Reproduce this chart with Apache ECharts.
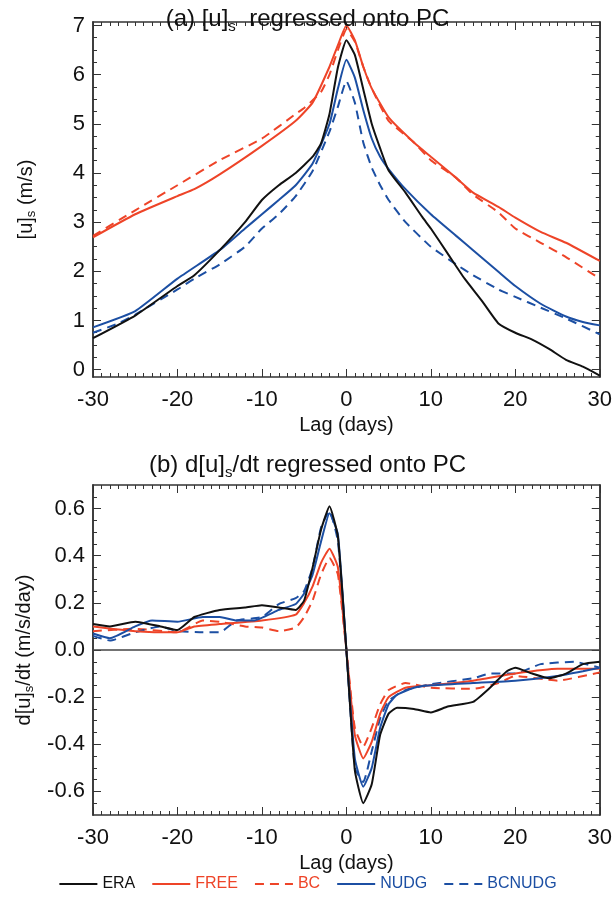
<!DOCTYPE html>
<html><head><meta charset="utf-8">
<script src="https://cdn.jsdelivr.net/npm/echarts@6/dist/echarts.min.js"></script>
<style>html,body{margin:0;padding:0;background:#fff}#main{width:615px;height:899px}</style>
</head><body><div id="main"></div>
<script>
// panel (a): [u]s, [lag, value]
var eraU=[[-30,0.64],[-25,1.1],[-20,1.7],[-18,1.92],[-15,2.43],[-12,3.0],[-10,3.45],[-8,3.75],[-6,4.0],[-4,4.33],[-3,4.6],[-2,5.2],[-1,6.15],[0,6.7],[1,6.4],[2,5.7],[3,5.0],[4,4.5],[5,4.05],[7,3.6],[9,3.1],[10,2.87],[12,2.36],[14,1.85],[16,1.41],[18,0.94],[20,0.75],[22,0.61],[24,0.42],[26,0.2],[28,0.06],[30,-0.12]];
var freeU=[[-30,2.69],[-25,3.16],[-20,3.53],[-18,3.67],[-15,3.97],[-10,4.55],[-6,5.06],[-4,5.43],[-2,6.16],[-1,6.6],[0,7.0],[1,6.7],[2,6.16],[3,5.72],[5,5.13],[8,4.62],[10,4.33],[13,3.9],[15,3.6],[18,3.31],[20,3.09],[23,2.8],[26,2.58],[30,2.21]];
var bcU=[[-30,2.72],[-25,3.24],[-20,3.75],[-15,4.26],[-10,4.7],[-6,5.2],[-5,5.32],[-3,5.65],[-2,6.0],[-1,6.5],[0,6.92],[1,6.67],[2,6.16],[3,5.72],[5,5.06],[8,4.62],[10,4.26],[13,3.9],[15,3.56],[18,3.2],[20,2.87],[23,2.58],[26,2.29],[30,1.85]];
var nudgU=[[-30,0.86],[-25,1.19],[-20,1.85],[-15,2.43],[-12,2.87],[-10,3.16],[-8,3.45],[-6,3.75],[-4,4.19],[-2,5.0],[-1,5.72],[0,6.3],[1,5.94],[2,5.28],[3,4.7],[4,4.33],[5,4.08],[7,3.67],[10,3.16],[13,2.72],[15,2.43],[18,1.99],[20,1.7],[23,1.34],[26,1.08],[28,0.97],[30,0.9]];
var bcnudgU=[[-30,0.75],[-27,0.94],[-25,1.12],[-20,1.63],[-18,1.85],[-15,2.14],[-12,2.5],[-10,2.87],[-8,3.16],[-6,3.53],[-4,4.04],[-2,4.84],[-1,5.35],[0,5.87],[1,5.43],[2,4.62],[3,4.11],[4,3.75],[5,3.45],[7,3.0],[10,2.5],[13,2.14],[15,1.92],[18,1.63],[20,1.48],[23,1.26],[26,1.04],[30,0.72]];
// panel (b): d[u]s/dt
var eraD=[[-30,0.11],[-28,0.1],[-25,0.12],[-22,0.1],[-20,0.085],[-18,0.14],[-15,0.17],[-12,0.18],[-10,0.19],[-8,0.18],[-6,0.17],[-5,0.21],[-4,0.35],[-3,0.51],[-2,0.61],[-1,0.48],[0,0],[1,-0.51],[2,-0.65],[3,-0.57],[4,-0.36],[5,-0.27],[6,-0.245],[8,-0.25],[10,-0.265],[12,-0.24],[15,-0.22],[17,-0.16],[19,-0.09],[20,-0.075],[22,-0.1],[24,-0.12],[26,-0.1],[28,-0.06],[30,-0.05]];
var freeD=[[-30,0.1],[-25,0.08],[-20,0.075],[-18,0.1],[-15,0.11],[-10,0.125],[-6,0.15],[-5,0.2],[-4,0.27],[-3,0.37],[-2,0.43],[-1,0.35],[0,0],[1,-0.36],[2,-0.46],[3,-0.39],[4,-0.27],[5,-0.2],[7,-0.16],[10,-0.15],[15,-0.13],[20,-0.1],[25,-0.08],[30,-0.08]];
var bcD=[[-30,0.08],[-25,0.09],[-20,0.075],[-17,0.125],[-15,0.12],[-12,0.1],[-10,0.095],[-8,0.08],[-6,0.095],[-5,0.14],[-4,0.21],[-3,0.32],[-2,0.39],[-1,0.32],[0,0],[1,-0.33],[2,-0.41],[3,-0.33],[4,-0.23],[5,-0.17],[7,-0.14],[10,-0.16],[15,-0.165],[18,-0.14],[20,-0.11],[25,-0.13],[30,-0.095]];
var nudgD=[[-30,0.07],[-28,0.05],[-25,0.1],[-23,0.125],[-20,0.12],[-17,0.14],[-15,0.14],[-13,0.125],[-11,0.125],[-8,0.17],[-6,0.195],[-5,0.24],[-4,0.32],[-3,0.46],[-2,0.58],[-1,0.49],[0,0],[1,-0.46],[2,-0.58],[3,-0.5],[4,-0.33],[5,-0.23],[6,-0.19],[8,-0.16],[10,-0.15],[15,-0.14],[20,-0.13],[25,-0.11],[28,-0.09],[30,-0.075]];
var bcnudgD=[[-30,0.06],[-28,0.04],[-25,0.075],[-22,0.1],[-20,0.08],[-17,0.075],[-15,0.075],[-13,0.125],[-10,0.14],[-8,0.195],[-6,0.22],[-5,0.25],[-4,0.35],[-3,0.52],[-2,0.59],[-1,0.46],[0,0],[1,-0.5],[2,-0.56],[3,-0.43],[4,-0.29],[5,-0.215],[7,-0.17],[10,-0.145],[15,-0.12],[17,-0.1],[20,-0.1],[23,-0.06],[27,-0.05],[30,-0.075]];
// tick values
var ticksA=[0,1,2,3,4,5,6,7];
var minorA=[0.25,0.5,0.75,1.25,1.5,1.75,2.25,2.5,2.75,3.25,3.5,3.75,4.25,4.5,4.75,5.25,5.5,5.75,6.25,6.5,6.75];
var ticksB=[-0.6,-0.4,-0.2,0,0.2,0.4,0.6];
var minorB=[-0.65,-0.55,-0.5,-0.45,-0.35,-0.3,-0.25,-0.15,-0.1,-0.05,0.05,0.1,0.15,0.25,0.3,0.35,0.45,0.5,0.55,0.65];

var RED='#ee4428', BLUE='#1c4fa3', BLK='#111';
var FONT='Liberation Sans, Arial, sans-serif';
var myChart=echarts.init(document.getElementById('main'));

function xAx(idx,pos,labels,name){
    return {type:'value',gridIndex:idx,position:pos,min:-30,max:30,interval:10,
        axisLine:{show:true,onZero:false,lineStyle:{color:'#333',width:1.5}},
        axisTick:{show:true,inside:true,length:8,lineStyle:{color:'#333'}},
        minorTick:{show:true,splitNumber:10,length:4,lineStyle:{color:'#333'}},
        splitLine:{show:false},
        axisLabel:{show:labels,fontSize:22,color:BLK,fontFamily:FONT,margin:12},
        name:name,nameLocation:'middle',nameGap:38,nameTextStyle:{fontSize:20,color:BLK,fontFamily:FONT}};
}
function yAx(idx,pos,labels,min,max,vals,len,fmt,name){
    return {type:'value',gridIndex:idx,position:pos,min:min,max:max,
        axisLine:{show:true,onZero:false,lineStyle:{color:'#333',width:1.5}},
        axisTick:{show:true,inside:true,length:len,customValues:vals,lineStyle:{color:'#333'}},
        splitLine:{show:false},
        axisLabel:{show:labels,customValues:vals,fontSize:22,color:BLK,fontFamily:FONT,margin:8,formatter:fmt},
        name:name,nameLocation:'middle',nameRotate:90,nameGap:55,
        nameTextStyle:{fontSize:20,color:BLK,fontFamily:FONT,rich:{s:{fontSize:13,color:BLK,fontFamily:FONT,padding:[10,0,0,0]}}}};
}
function ser(name,data,color,dash,xi,yi){
    return {name:name,type:'line',data:data,xAxisIndex:xi,yAxisIndex:yi,showSymbol:false,smooth:0.15,
        lineStyle:{color:color,width:2,type:dash?[9,6]:'solid'},itemStyle:{color:color},z:dash?3:4};
}
var fA=function(v){return v.toFixed(0);}, fB=function(v){return v.toFixed(1);};

var option={
    animation:false,
    title:[
        {text:'(a) [u]{s|s}  regressed onto PC',left:'center',top:0,
         textStyle:{fontSize:24,fontWeight:'normal',color:BLK,fontFamily:FONT,rich:{s:{fontSize:15,color:BLK,fontFamily:FONT,padding:[14,0,0,0]}}}},
        {text:'(b) d[u]{s|s}/dt regressed onto PC',left:'center',top:446,
         textStyle:{fontSize:24,fontWeight:'normal',color:BLK,fontFamily:FONT,rich:{s:{fontSize:15,color:BLK,fontFamily:FONT,padding:[14,0,0,0]}}}}
    ],
    grid:[
        {left:93,width:507,top:22,height:355},
        {left:93,width:507,top:485,height:330}
    ],
    xAxis:[xAx(0,'bottom',true,'Lag (days)'),xAx(0,'top',false,''),xAx(1,'bottom',true,'Lag (days)'),xAx(1,'top',false,'')],
    yAxis:[
        yAx(0,'left',true,-0.15,7.07,ticksA,8,fA,'[u]{s|s} (m/s)'),
        yAx(0,'right',false,-0.15,7.07,ticksA,8,null,''),
        yAx(0,'left',false,-0.15,7.07,minorA,4,null,''),
        yAx(0,'right',false,-0.15,7.07,minorA,4,null,''),
        yAx(1,'left',true,-0.7,0.7,ticksB,8,fB,'d[u]{s|s}/dt (m/s/day)'),
        yAx(1,'right',false,-0.7,0.7,ticksB,8,null,''),
        yAx(1,'left',false,-0.7,0.7,minorB,4,null,''),
        yAx(1,'right',false,-0.7,0.7,minorB,4,null,'')
    ],
    legend:{bottom:2,left:'center',itemWidth:38,itemHeight:10,itemGap:16,
        itemStyle:{opacity:0},
        textStyle:{fontSize:16,fontFamily:FONT},
        data:[{name:'ERA',textStyle:{color:BLK}},{name:'FREE',textStyle:{color:RED}},{name:'BC',textStyle:{color:RED}},
              {name:'NUDG',textStyle:{color:BLUE}},{name:'BCNUDG',textStyle:{color:BLUE}}]},
    series:[
        ser('BC',bcU,RED,true,0,0),
        ser('BCNUDG',bcnudgU,BLUE,true,0,0),
        ser('FREE',freeU,RED,false,0,0),
        ser('NUDG',nudgU,BLUE,false,0,0),
        ser('ERA',eraU,BLK,false,0,0),
        ser('BC',bcD,RED,true,2,4),
        ser('BCNUDG',bcnudgD,BLUE,true,2,4),
        ser('FREE',freeD,RED,false,2,4),
        ser('NUDG',nudgD,BLUE,false,2,4),
        Object.assign(ser('ERA',eraD,BLK,false,2,4),{markLine:{silent:true,symbol:'none',label:{show:false},
            lineStyle:{color:'#444',width:1.5,type:'solid'},data:[{yAxis:0}]}})
    ]
};
myChart.setOption(option);
</script></body></html>
